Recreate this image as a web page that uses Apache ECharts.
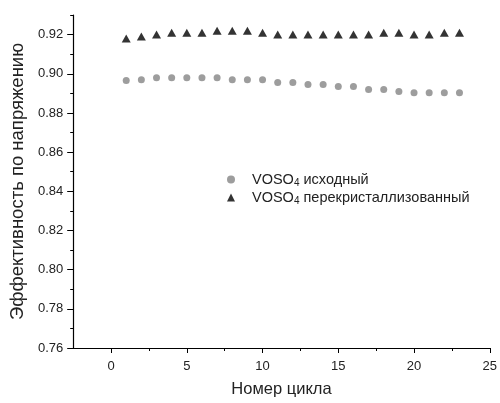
<!DOCTYPE html>
<html>
<head>
<meta charset="utf-8">
<script src="https://cdn.jsdelivr.net/npm/echarts@6/dist/echarts.min.js"></script>
<style>
  html, body { margin: 0; padding: 0; background: #fff; }
  #chart { width: 500px; height: 403px; }
</style>
</head>
<body>
<div id="chart"></div>
<script>
// Cycle numbers
const cycles = [1,2,3,4,5,6,7,8,9,10,11,12,13,14,15,16,17,18,19,20,21,22,23];

// Voltage efficiency per cycle
const original = [0.8965,0.897,0.898,0.898,0.898,0.898,0.898,0.897,0.897,0.897,0.8955,0.8955,0.8945,0.8945,0.8935,0.8935,0.892,0.892,0.891,0.8903,0.8903,0.8903,0.8903];
const recrystallized = [0.918,0.919,0.920,0.921,0.921,0.921,0.922,0.922,0.922,0.921,0.920,0.920,0.920,0.920,0.920,0.920,0.920,0.921,0.921,0.920,0.920,0.921,0.921];

// Series names: [prefix, subscript, suffix]
const nameOriginal = ['VOSO', '4', ' исходный'];
const nameRecryst = ['VOSO', '4', ' перекристаллизованный'];

// Axis ticks
const xMajorTicks = [0, 5, 10, 15, 20, 25];
const xMinorTicks = [2.5, 7.5, 12.5, 17.5, 22.5];
const yMajorTicks = [0.76, 0.78, 0.80, 0.82, 0.84, 0.86, 0.88, 0.90, 0.92];
const yMinorTicks = [0.77, 0.79, 0.81, 0.83, 0.85, 0.87, 0.89, 0.91, 0.93];

const fontFamily = 'Liberation Sans, Arial, sans-serif';
const textColor = '#222';

const fullName = n => n.join('');
const richName = n => '{n|' + n[0] + '}{s|' + n[1] + '}{n|' + n[2] + '}';
const nameMap = {};
nameMap[fullName(nameOriginal)] = richName(nameOriginal);
nameMap[fullName(nameRecryst)] = richName(nameRecryst);

const chart = echarts.init(document.getElementById('chart'), null, { renderer: 'canvas' });

const xMin = -2.5, xMax = 25, yMin = 0.76, yMax = 0.93;

chart.setOption({
  animation: false,
  backgroundColor: '#fff',
  textStyle: { fontFamily: fontFamily, color: textColor },
  grid: { left: 72, right: 8, top: 15, bottom: 51, containLabel: false },
  legend: {
    orient: 'vertical',
    left: 222,
    top: 167,
    itemWidth: 8,
    itemHeight: 8,
    itemGap: 2,
    data: [
      { name: fullName(nameOriginal), icon: 'circle' },
      { name: fullName(nameRecryst), icon: 'triangle' }
    ],
    formatter: name => nameMap[name],
    textStyle: {
      padding: [0, 0, 0, 12],
      rich: {
        n: { fontSize: 14.5, color: textColor, fontFamily: fontFamily },
        s: { fontSize: 10, color: textColor, fontFamily: fontFamily, verticalAlign: 'bottom', padding: [7, 0, 0, 0] }
      }
    }
  },
  xAxis: [
    {
      type: 'value', min: xMin, max: xMax,
      name: 'Номер цикла', nameLocation: 'middle', nameGap: 33,
      nameTextStyle: { fontSize: 16.5, color: textColor, fontFamily: fontFamily },
      axisLine: { onZero: false, lineStyle: { color: '#000', width: 1.2 } },
      axisTick: { show: true, inside: false, length: 5, customValues: xMajorTicks, lineStyle: { color: '#000' } },
      axisLabel: { customValues: xMajorTicks, fontSize: 13, color: textColor, margin: 12 },
      splitLine: { show: false }
    },
    {
      type: 'value', min: xMin, max: xMax, position: 'bottom',
      axisLine: { show: false, onZero: false },
      axisTick: { show: true, inside: false, length: 3, customValues: xMinorTicks, lineStyle: { color: '#000' } },
      axisLabel: { show: false },
      splitLine: { show: false }
    }
  ],
  yAxis: [
    {
      type: 'value', min: yMin, max: yMax,
      name: 'Эффективность по напряжению', nameLocation: 'middle', nameGap: 46,
      nameTextStyle: { fontSize: 18.5, color: textColor, fontFamily: fontFamily },
      axisLine: { show: true, onZero: false, lineStyle: { color: '#000', width: 1.2 } },
      axisTick: { show: true, inside: false, length: 6, customValues: yMajorTicks, lineStyle: { color: '#000' } },
      axisLabel: { customValues: yMajorTicks, fontSize: 13, color: textColor, margin: 10,
        formatter: v => v.toFixed(2) },
      splitLine: { show: false }
    },
    {
      type: 'value', min: yMin, max: yMax, position: 'left',
      axisLine: { show: false, onZero: false },
      axisTick: { show: true, inside: false, length: 3, customValues: yMinorTicks, lineStyle: { color: '#000' } },
      axisLabel: { show: false },
      splitLine: { show: false }
    }
  ],
  series: [
    {
      name: fullName(nameOriginal),
      type: 'scatter',
      symbol: 'circle',
      symbolSize: 7,
      itemStyle: { color: '#858585' },
      data: cycles.map((c, i) => [c, original[i]])
    },
    {
      name: fullName(nameRecryst),
      type: 'scatter',
      symbol: 'triangle',
      symbolSize: [9, 8],
      itemStyle: { color: '#000' },
      data: cycles.map((c, i) => [c, recrystallized[i]])
    }
  ]
});
</script>
</body>
</html>
